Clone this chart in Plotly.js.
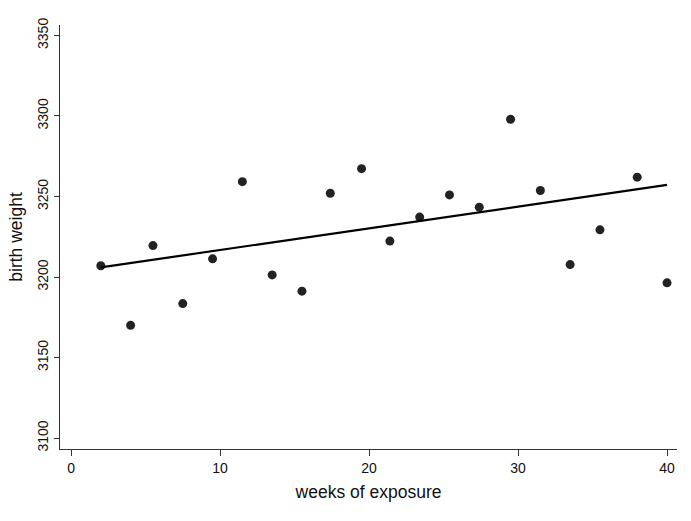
<!DOCTYPE html>
<html>
<head>
<meta charset="utf-8">
<script src="https://cdn.plot.ly/plotly-3.0.1.min.js"></script>
<style>html,body{margin:0;padding:0;background:#fff;}#chart{width:691px;height:521px;}</style>
</head>
<body>
<div id="chart"></div>
<script>
const weeks = [2, 4, 5.5, 7.5, 9.5, 11.5, 13.5, 15.5, 17.4, 19.5, 21.4, 23.4, 25.4, 27.4, 29.5, 31.5, 33.5, 35.5, 38, 40];
const birthWeight = [3207, 3170, 3219.5, 3183.5, 3211.3, 3259.2, 3201.3, 3191.2, 3252, 3267.3, 3222.3, 3237.2, 3251, 3243.4, 3298, 3253.7, 3207.7, 3229.3, 3262, 3196.4];
const fitWeeks = [2, 40];
const fitWeight = [3206, 3257.2];
const xTicks = [0, 10, 20, 30, 40];
const yTicks = [3100, 3150, 3200, 3250, 3300, 3350];

const font = "Liberation Sans, Arial, Helvetica, sans-serif";
const data = [
  {x: weeks, y: birthWeight, type: 'scatter', mode: 'markers',
   marker: {color: '#222222', size: 9}, hoverinfo: 'none'},
  {x: fitWeeks, y: fitWeight, type: 'scatter', mode: 'lines',
   line: {color: '#000000', width: 2.2}, hoverinfo: 'none'}
];
const layout = {
  width: 691, height: 521,
  margin: {l: 60, r: 14, t: 25, b: 72},
  showlegend: false,
  paper_bgcolor: '#fff', plot_bgcolor: '#fff',
  font: {family: font, color: '#111'},
  xaxis: {
    range: [-0.74, 40.67], tickvals: xTicks, ticktext: xTicks.map(String),
    showgrid: false, zeroline: false, showline: true, linecolor: '#333', linewidth: 1,
    ticks: 'outside', ticklen: 6, tickcolor: '#333', tickfont: {size: 14, family: font, color: '#111'},
    title: {text: 'weeks of exposure', font: {size: 17.5, family: font, color: '#111'}, standoff: 10}
  },
  yaxis: {
    range: [3093.2, 3356.5], tickvals: yTicks, ticktext: yTicks.map(String),
    showgrid: false, zeroline: false, showline: true, linecolor: '#333', linewidth: 1,
    ticks: 'outside', ticklen: 5, tickcolor: '#333', tickangle: -90,
    tickfont: {size: 14, family: font, color: '#111'},
    title: {text: 'birth weight', font: {size: 17.5, family: font, color: '#111'}, standoff: 8}
  }
};
Plotly.newPlot('chart', data, layout, {staticPlot: true, displayModeBar: false});
</script>
</body>
</html>
